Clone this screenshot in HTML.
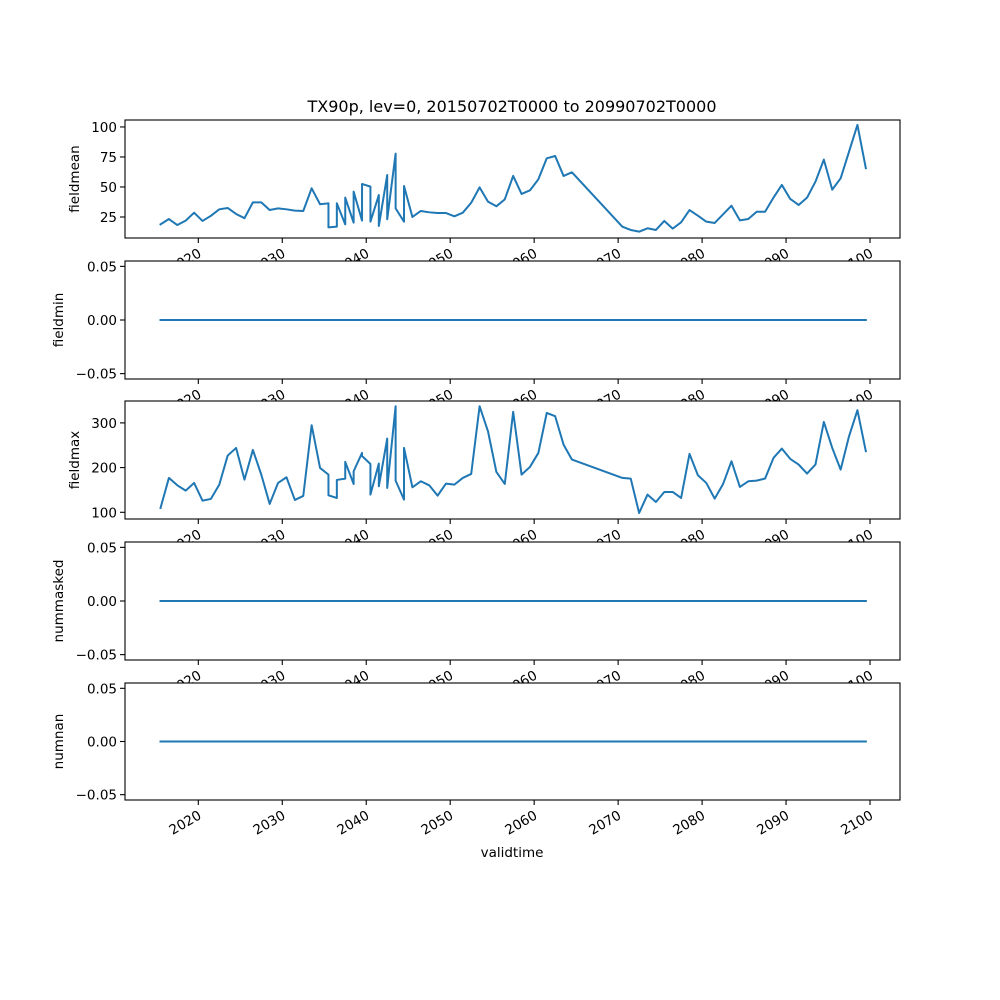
<!DOCTYPE html>
<html><head><meta charset="utf-8"><style>
html,body{margin:0;padding:0;background:#fff;}
svg{display:block;font-family:"DejaVu Sans","Liberation Sans",sans-serif;}
</style></head><body>
<svg id="fig" width="1000" height="1000" viewBox="0 0 1000 1000" xmlns="http://www.w3.org/2000/svg">
<rect width="1000" height="1000" fill="#fff"/>
<text x="512" y="112" text-anchor="middle" font-size="16">TX90p, lev=0, 20150702T0000 to 20990702T0000</text>
<g id="panels"></g>
<text x="512" y="857" text-anchor="middle" font-size="13.5">validtime</text>
</svg>
<script>
const yearIdx = [0,1,2,3,4,5,6,7,8,9,10,11,12,13,14,15,16,17,18,19,
20,20,21,21,22,22,23,23,24,24,25,25,26,26,27,27,28,28,29,29,
30,31,32,33,34,35,36,37,38,39,40,41,42,43,44,45,46,47,48,49,
55,56,57,58,59,60,61,62,63,64,65,66,67,68,69,70,71,72,73,74,75,76,77,78,79,80,81,82,83,84];
const years = yearIdx.map(i => 2015.5 + i);
const fieldmean = [18.9,23.3,18.3,22,28.6,21.7,26,31.4,32.5,27.5,24,37.2,37.2,30.8,32.2,31.4,30.3,30,48.9,35.6,
36.4,16.4,17,36.4,18.9,41.1,20.3,46.1,22,52.5,50.3,21.1,43.3,17.5,60,23.1,77.8,32.2,21.1,50.8,
25,30,28.9,28.3,28.3,25.6,28.6,36.9,49.7,37.8,33.9,39.7,59.2,44.2,47.2,56.4,73.9,75.8,59.2,62.2,
16.9,14.2,12.8,15.6,14.2,21.7,15.3,20.6,30.8,26.1,21.1,20,27.2,34.4,22.2,23.3,29.4,29.4,41.1,51.7,40,35,41.1,54.4,72.8,47.8,57.2,79.4,101.7,65.6];
const fieldmax = [109.7,176.9,160.4,148.5,165.7,126.1,129.9,161.9,226.9,244,173.1,239.6,184.3,118.7,165.7,178.4,127.6,136.6,294.8,199.3,
184.3,138,132,172.4,175.4,212.7,163.4,191.8,232.8,226,208,139.6,209,158.2,265,154.5,337.3,170.9,128.4,244,
156,169.4,160.4,137.3,164.2,161.9,176.9,185.8,337.3,281.3,190.3,163.4,324.6,184.3,201.5,232.8,322.4,314.9,251.5,217.9,
176.9,175.4,98.5,139.6,123.1,145.5,145.5,132,230.6,182.8,165.7,130.6,163.4,214.2,156.7,169.4,170.9,175.4,221.6,242.5,219.4,206.7,186.6,206.7,302.2,244,195.5,270.1,328.4,236.6];
const zeros = years.map(() => 0);
const xTicks = [2020,2030,2040,2050,2060,2070,2080,2090,2100];
const xMin = 2011.27, xMax = 2103.57;
const L = 125, R = 900;
const panels = [
 {name:'fieldmean', top:120, bottom:238, ymin:7.5, ymax:105.8, ticks:[25,50,75,100], labels:['25','50','75','100'], vals:fieldmean, lx:79},
 {name:'fieldmin', top:261, bottom:379, ymin:-0.055, ymax:0.055, ticks:[-0.05,0,0.05], labels:['−0.05','0.00','0.05'], vals:zeros, lx:63},
 {name:'fieldmax', top:401, bottom:519, ymin:85, ymax:349, ticks:[100,200,300], labels:['100','200','300'], vals:fieldmax, lx:79},
 {name:'nummasked', top:542, bottom:660, ymin:-0.055, ymax:0.055, ticks:[-0.05,0,0.05], labels:['−0.05','0.00','0.05'], vals:zeros, lx:63},
 {name:'numnan', top:683, bottom:800, ymin:-0.055, ymax:0.055, ticks:[-0.05,0,0.05], labels:['−0.05','0.00','0.05'], vals:zeros, lx:63}
];
const NS = 'http://www.w3.org/2000/svg';
const root = document.getElementById('panels');
function mk(tag, attrs, parent){ const e=document.createElementNS(NS,tag); for(const k in attrs) e.setAttribute(k,attrs[k]); parent.appendChild(e); return e; }
const xs = v => L + (v - xMin) / (xMax - xMin) * (R - L);
panels.forEach((p) => {
  const g = mk('g', {}, root);
  
  
  const ys = v => p.bottom - (v - p.ymin) / (p.ymax - p.ymin) * (p.bottom - p.top);
  mk('rect', {x:L, y:p.top, width:R-L, height:p.bottom-p.top, fill:'#fff'}, g);
  const pts = years.map((yr, i) => xs(yr).toFixed(2) + ',' + ys(p.vals[i]).toFixed(2)).join(' ');
  const line = mk('polyline', {points:pts, fill:'none', stroke:'#1f77b4', 'stroke-width':2, 'stroke-linejoin':'round', 'stroke-linecap':'square'}, g);
  
  
  const frame = mk('rect', {x:L, y:p.top, width:R-L, height:p.bottom-p.top, fill:'none', stroke:'#000', 'stroke-width':1.1}, g);
  
  
  p.ticks.forEach((t, k) => {
    const y = ys(t);
    mk('line', {x1:L-5, x2:L, y1:y, y2:y, stroke:'#000', 'stroke-width':1.1}, g);
    const tl = mk('text', {x:L-8, y:y+5, 'text-anchor':'end', 'font-size':13.5}, g);
    tl.textContent = p.labels[k];
    
    
  });
  xTicks.forEach(t => {
    const x = xs(t);
    mk('line', {x1:x, x2:x, y1:p.bottom, y2:p.bottom+5, stroke:'#000', 'stroke-width':1.1}, g);
    const tl = mk('text', {transform:'translate('+(x+4)+','+(p.bottom+18)+') rotate(-30)', 'text-anchor':'end', 'font-size':13.5}, g);
    tl.textContent = String(t);
    
    
  });
  const cy = (p.top + p.bottom) / 2;
  const yl = mk('text', {transform:'translate('+p.lx+','+cy+') rotate(-90)', 'text-anchor':'middle', 'font-size':13.5}, g);
  yl.textContent = p.name;
  
  
});
</script>
</body></html>
